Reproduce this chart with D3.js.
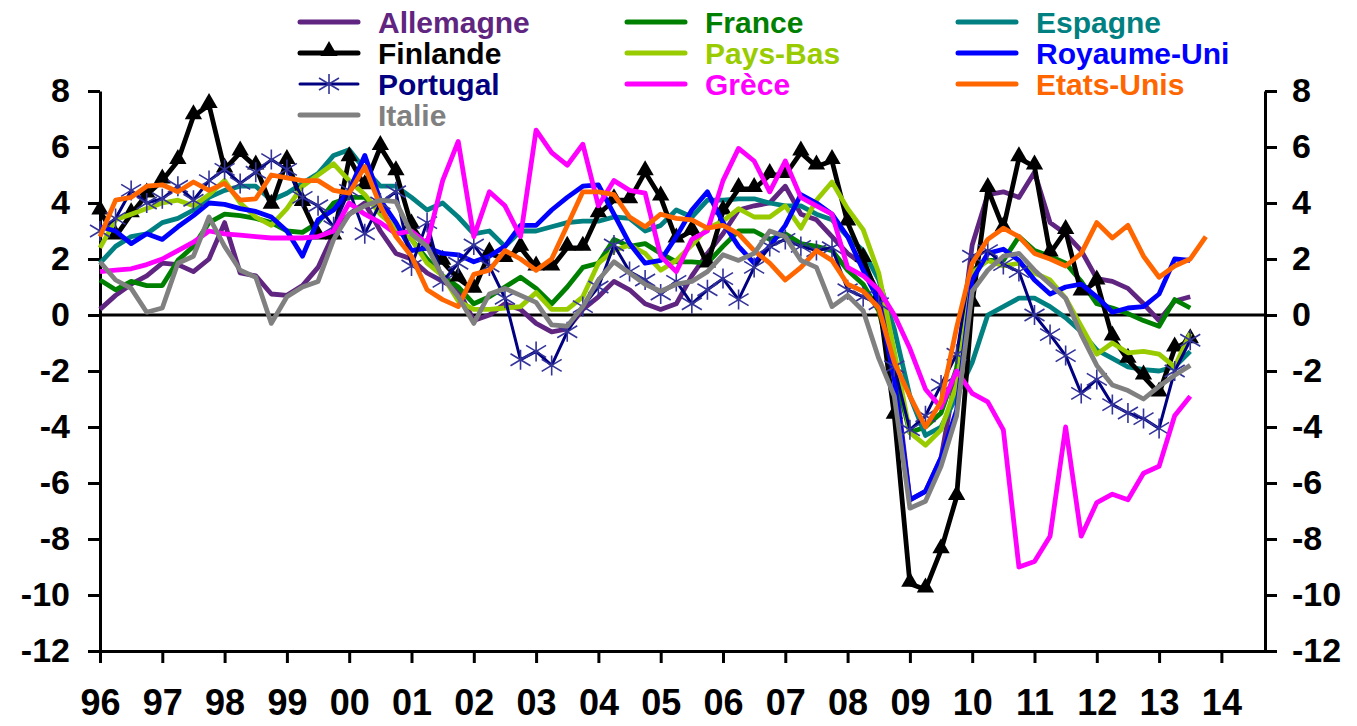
<!DOCTYPE html>
<html>
<head>
<meta charset="utf-8">
<title>Croissance du PIB</title>
<script src="https://d3js.org/d3.v7.min.js"></script>
<style>
  body { margin: 0; background: #fff; }
  text { font-family: "Liberation Sans", Arial, sans-serif; font-weight: bold; }
</style>
</head>
<body>
<div id="chart"></div>
<script>
// quarterly y/y growth, first point = 1996 Q1
var startYear = 1996;
var yearLabels = ["96","97","98","99","00","01","02","03","04","05","06","07","08","09","10","11","12","13","14"];
var yTicks = [8, 6, 4, 2, 0, -2, -4, -6, -8, -10, -12];

var allemagne = [0.2,0.7,1.1,1.4,1.85,1.8,1.55,2.0,3.3,1.5,1.4,0.75,0.7,1.05,1.7,2.9,
  3.6,4.0,3.0,2.2,2.0,1.5,1.2,0.9,-0.2,0.0,0.4,0.2,-0.3,-0.6,-0.5,0.2,
  0.65,1.2,0.9,0.4,0.2,0.4,1.4,2.2,2.9,3.75,3.9,4.0,4.6,3.6,3.4,2.8,
  2.2,1.8,0.8,-1.9,-6.6,-6.3,-5.1,-2.0,2.5,4.3,4.4,4.2,5.1,3.3,2.9,2.3,
  1.3,1.2,0.95,0.4,-0.2,0.5,0.65];
var france = [1.25,0.9,1.2,1.05,1.05,1.95,2.45,3.3,3.6,3.55,3.45,3.3,3.0,2.95,3.3,4.0,
  4.2,4.2,3.75,3.0,2.7,2.0,1.4,1.0,0.4,0.65,1.0,1.35,0.95,0.4,1.0,1.7,
  1.85,2.7,2.45,2.55,2.2,1.9,1.9,1.85,2.45,3.0,3.0,2.7,2.9,2.55,2.45,2.3,
  1.6,1.1,0.15,-2.0,-4.2,-4.0,-3.5,-1.9,1.6,1.95,1.95,2.8,2.3,2.1,1.85,1.2,
  0.4,0.25,0.05,-0.2,-0.4,0.55,0.25];
var espagne = [1.85,2.45,2.8,2.9,3.3,3.45,3.75,4.2,4.45,4.6,4.6,4.1,4.35,4.7,5.05,5.7,
  5.9,5.2,4.6,4.6,4.2,3.75,4.0,3.5,2.9,3.0,2.45,3.0,3.0,3.15,3.3,3.35,
  3.35,3.5,3.45,3.0,3.2,3.75,3.5,4.1,4.1,4.15,4.15,4.0,3.9,3.9,3.6,3.4,
  2.8,2.3,1.25,-0.5,-2.9,-4.3,-4.0,-2.9,-1.7,0.0,0.3,0.6,0.6,0.3,-0.1,-0.6,
  -1.25,-1.55,-1.85,-1.95,-2.0,-1.85,-1.3];
var finlande = [3.7,2.8,3.6,4.3,4.8,5.5,7.1,7.5,5.2,5.8,5.3,3.9,5.5,4.0,2.8,2.8,
  5.6,4.6,6.0,5.1,3.2,2.4,1.9,1.3,0.9,2.2,2.0,2.4,1.7,1.7,2.4,2.4,
  3.6,4.1,4.1,5.1,4.2,2.7,3.0,1.8,3.7,4.5,4.5,5.0,5.0,5.8,5.3,5.5,
  3.3,2.0,0.6,-3.6,-9.6,-9.8,-8.4,-6.5,0.4,4.5,3.1,5.6,5.3,2.2,3.0,0.8,
  1.2,-0.8,-1.6,-2.2,-2.8,-1.2,-0.9];
var paysBas = [2.4,3.4,3.6,3.8,4.0,4.1,3.9,4.3,4.8,4.0,3.5,3.2,3.8,4.6,5.0,5.4,
  4.8,4.3,3.6,3.1,2.7,1.85,1.4,0.5,0.2,0.2,0.25,0.3,0.8,0.2,0.2,0.65,
  1.85,2.3,2.5,2.2,1.6,1.95,2.5,3.1,3.35,3.8,3.5,3.5,3.9,3.1,4.1,4.75,
  3.8,3.05,1.5,-1.3,-4.2,-4.65,-4.1,-2.5,1.5,1.95,1.75,1.85,1.5,1.25,0.6,-0.4,
  -1.4,-1.0,-1.35,-1.3,-1.4,-1.85,-0.65];
var royaumeUni = [3.15,3.0,2.55,2.9,2.7,3.15,3.55,4.0,3.95,3.8,3.7,3.5,3.0,2.1,3.4,3.75,
  4.45,5.7,4.1,3.3,2.3,2.4,2.2,2.15,1.9,2.1,2.45,3.2,3.2,3.75,4.2,4.6,
  4.65,3.6,2.55,1.85,1.95,2.8,3.75,4.4,3.3,2.45,1.85,2.45,3.2,4.3,4.0,3.6,
  2.8,1.6,0.5,-2.3,-6.6,-6.3,-5.1,-3.4,1.25,2.2,2.35,1.95,1.25,0.75,1.0,1.1,
  0.65,0.1,0.25,0.3,0.75,2.0,1.95];
var portugal = [3.0,3.45,4.45,4.0,4.15,4.6,4.1,4.8,5.2,4.7,5.1,5.55,5.2,4.2,3.9,3.15,
  4.45,2.9,4.0,4.4,1.75,3.3,1.2,1.85,2.5,1.75,0.6,-1.6,-1.3,-1.8,-0.6,0.3,
  1.0,2.5,1.55,1.25,0.75,1.2,0.4,0.9,1.3,0.55,1.7,2.45,2.7,2.45,2.3,2.4,
  0.9,0.65,0.4,-1.85,-4.1,-3.6,-2.5,-1.4,2.1,2.3,1.8,1.55,0.0,-0.7,-1.45,-2.8,
  -2.3,-3.2,-3.5,-3.7,-4.05,-2.0,-0.9];
var grece = [1.55,1.6,1.65,1.8,2.0,2.3,2.6,3.0,2.9,2.85,2.8,2.75,2.75,2.75,2.8,3.0,
  4.0,3.6,3.3,2.9,3.0,2.55,4.8,6.2,2.8,4.4,3.9,2.8,6.6,5.8,5.35,6.1,
  3.9,4.8,4.45,4.35,2.1,1.55,2.7,3.0,4.8,5.95,5.5,4.4,5.5,4.2,3.9,3.6,
  1.7,1.4,0.9,0.0,-1.2,-2.65,-3.3,-2.0,-2.8,-3.1,-4.1,-9.0,-8.8,-7.9,-4.0,-7.9,
  -6.7,-6.4,-6.6,-5.65,-5.4,-3.6,-2.9];
var etatsUnis = [2.8,4.1,4.2,4.6,4.65,4.4,4.75,4.45,4.7,4.1,4.15,5.0,4.9,4.8,4.8,4.45,
  4.35,5.3,3.9,2.8,2.1,0.9,0.55,0.3,1.45,1.6,2.3,2.0,1.6,2.0,3.2,4.4,
  4.4,4.3,3.5,3.15,3.6,3.45,3.4,3.1,3.2,2.9,2.3,1.85,1.25,1.7,2.3,1.95,
  1.1,0.85,0.25,-1.7,-2.9,-4.0,-3.1,-0.45,1.85,2.7,3.1,2.8,2.2,2.0,1.75,2.2,
  3.3,2.75,3.2,2.1,1.35,1.75,2.0,2.8];
var italie = [1.9,1.25,0.95,0.1,0.25,1.85,2.1,3.5,2.45,1.6,1.35,-0.3,0.65,1.0,1.2,2.7,
  3.6,3.9,4.1,4.05,2.9,2.45,1.35,0.65,-0.3,0.75,0.95,0.7,0.45,-0.35,-0.4,0.3,
  1.25,1.9,1.5,1.1,0.85,1.1,1.2,1.55,2.15,1.95,2.2,3.0,2.8,1.95,1.7,0.3,
  0.7,0.15,-1.55,-2.9,-6.9,-6.65,-5.4,-3.6,0.85,1.6,2.1,2.2,1.6,1.1,0.6,-0.7,
  -1.8,-2.5,-2.7,-3.0,-2.55,-2.15,-1.8];

// legend / drawing order
var series = [
  {name: "Allemagne",   values: allemagne,  color: "#5F2580", text: "#5F2580"},
  {name: "France",      values: france,     color: "#008000", text: "#008000"},
  {name: "Espagne",     values: espagne,    color: "#008080", text: "#008080"},
  {name: "Finlande",    values: finlande,   color: "#000000", text: "#000000", marker: "triangle"},
  {name: "Pays-Bas",    values: paysBas,    color: "#99CC00", text: "#99CC00"},
  {name: "Royaume-Uni", values: royaumeUni, color: "#0000FF", text: "#0000FF"},
  {name: "Portugal",    values: portugal,   color: "#000080", text: "#000080", marker: "star"},
  {name: "Grèce",       values: grece,      color: "#FF00FF", text: "#FF00FF"},
  {name: "Etats-Unis",  values: etatsUnis,  color: "#FF6600", text: "#FF6600"},
  {name: "Italie",      values: italie,     color: "#808080", text: "#808080"}
];

var width = 1357, height = 726;

var svg = d3.select("#chart")
  .append("svg")
  .attr("width", width)
  .attr("height", height);

var x = d3.scaleLinear()
  .domain([startYear, 2014.7])
  .range([100, 1265]);

var y = d3.scaleLinear()
  .domain([-12, 8])
  .range([651, 91]);

var years = yearLabels.map(function(d, i) { return startYear + i; });

// axes
var xAxis = svg.append("g")
  .attr("transform", "translate(0," + y(-12) + ")")
  .call(d3.axisBottom(x)
    .tickValues(years)
    .tickFormat(function(d, i) { return yearLabels[i]; })
    .tickSize(12)
    .tickSizeOuter(0)
    .tickPadding(26));

var yLeft = svg.append("g")
  .attr("transform", "translate(" + x(startYear) + ",0)")
  .call(d3.axisLeft(y)
    .tickValues(yTicks)
    .tickFormat(function(d) { return String(d); })
    .tickSize(12)
    .tickSizeOuter(0)
    .tickPadding(18));

var yRight = svg.append("g")
  .attr("transform", "translate(" + x.range()[1] + ",0)")
  .call(d3.axisRight(y)
    .tickValues(yTicks)
    .tickFormat(function(d) { return String(d); })
    .tickSize(12)
    .tickSizeOuter(0)
    .tickPadding(15));

[xAxis, yLeft, yRight].forEach(function(g) {
  g.selectAll("path, line").attr("stroke", "#000").attr("stroke-width", 3);
  g.selectAll("text").attr("fill", "#000");
});
xAxis.selectAll("text").style("font-size", "36px");
yLeft.selectAll("text").style("font-size", "34px");
yRight.selectAll("text").style("font-size", "34px");

// zero line
svg.append("line")
  .attr("x1", x.range()[0]).attr("x2", x.range()[1])
  .attr("y1", y(0)).attr("y2", y(0))
  .attr("stroke", "#000")
  .attr("stroke-width", 3);

var line = d3.line()
  .x(function(d, i) { return x(startYear + i / 4); })
  .y(function(d) { return y(d); });

var starPath = "M0,-10V10M-10,-6L10,6M-10,6L10,-6";
var triangle = d3.symbol().type(d3.symbolTriangle).size(130);

var plot = svg.append("g");

series.forEach(function(s) {
  var g = plot.append("g");
  g.append("path")
    .datum(s.values)
    .attr("d", line)
    .attr("fill", "none")
    .attr("stroke", s.color)
    .attr("stroke-width", s.marker == "star" ? 3 : 4.8)
    .attr("stroke-linejoin", "round");

  if (s.marker == "triangle") {
    g.selectAll(".m")
      .data(s.values)
      .enter()
      .append("path")
      .attr("transform", function(d, i) { return "translate(" + x(startYear + i / 4) + "," + (y(d) - 2) + ")"; })
      .attr("d", triangle)
      .attr("fill", "#000");
  }
  if (s.marker == "star") {
    g.selectAll(".m")
      .data(s.values)
      .enter()
      .append("path")
      .attr("transform", function(d, i) { return "translate(" + x(startYear + i / 4) + "," + y(d) + ")"; })
      .attr("d", starPath)
      .attr("fill", "none")
      .attr("stroke", "#333399")
      .attr("stroke-width", 1.6);
  }
});

// legend, 3 columns
var legendCols = [300, 627, 958];
var legendRows = [22, 53, 84, 115];

var legend = svg.append("g");
series.forEach(function(s, i) {
  var lx = legendCols[i % 3], ly = legendRows[Math.floor(i / 3)];
  var g = legend.append("g").attr("transform", "translate(" + lx + "," + ly + ")");
  g.append("line")
    .attr("x1", 0).attr("x2", 58)
    .attr("y1", 0).attr("y2", 0)
    .attr("stroke", s.color)
    .attr("stroke-width", s.marker == "star" ? 3 : 5)
    .attr("stroke-linecap", "round");
  if (s.marker == "triangle") {
    g.append("path").attr("transform", "translate(29,-2)").attr("d", triangle).attr("fill", "#000");
  }
  if (s.marker == "star") {
    g.append("path").attr("transform", "translate(29,0)").attr("d", starPath)
      .attr("fill", "none").attr("stroke", "#333399").attr("stroke-width", 1.6);
  }
  g.append("text")
    .attr("x", 78)
    .attr("dy", "0.36em")
    .style("font-size", "30px")
    .attr("fill", s.text)
    .text(s.name);
});
</script>
</body>
</html>
